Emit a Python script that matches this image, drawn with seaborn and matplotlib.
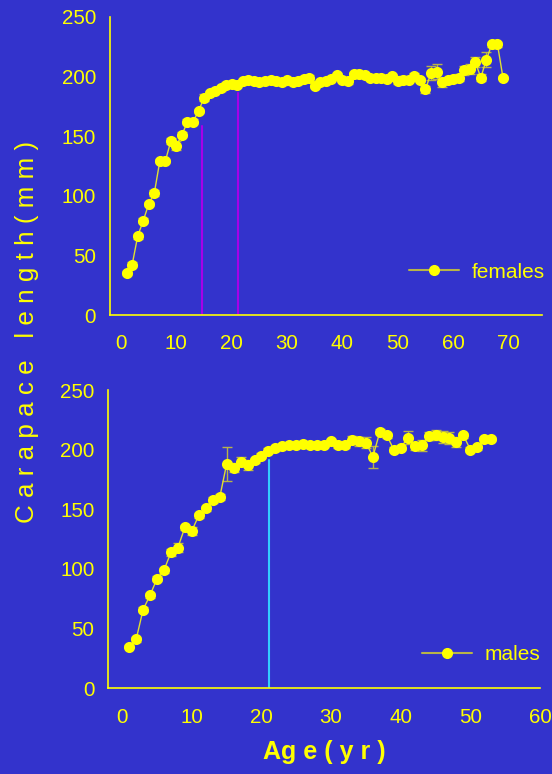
import numpy as np
import pandas as pd
import matplotlib
matplotlib.use("Agg")
import matplotlib.pyplot as plt
import seaborn as sns
from matplotlib.lines import Line2D

# ---------------- data ----------------
female_age = list(range(1, 70))
female_len = [35, 42, 66, 79, 93, 102, 129, 129, 146, 142,
              151, 162, 162, 171, 182, 186, 188, 190, 193, 194,
              193, 196, 197, 196, 195, 196, 197, 196, 195, 197,
              195, 196, 198, 199, 192, 195, 196, 198, 201, 197,
              196, 202, 202, 201, 199, 199, 199, 198, 200, 196,
              197, 197, 200, 197, 189, 203, 204, 195, 197, 198,
              199, 205, 206, 212, 199, 214, 227, 227, 199]
female_err = [1.5, 2, 2, 2, 2, 2.5, 2, 2, 2.5, 3.5,
              2, 2, 2, 2, 3, 2, 2, 2, 2, 2,
              2, 2, 2, 2, 2, 2, 2, 2, 2, 2,
              2, 2, 2, 2, 2, 2, 2, 2, 2, 2,
              2, 2, 2, 2, 2, 2, 2, 2, 2, 2,
              3, 2, 3, 2, 3, 6, 6, 4, 2, 2,
              3, 4, 4, 4, 3, 6, 2, 2, 1]
female_marks = [14.7, 21.2]
female_mark_tops = [158, 186]

male_age = list(range(1, 54))
male_len = [35, 41, 66, 78, 92, 99, 114, 118, 135, 132,
            145, 151, 158, 160, 188, 185, 190, 187, 191, 195,
            199, 201, 203, 203.5, 204, 205, 203.5, 203.5, 204, 207,
            203.5, 203.5, 208.5, 207, 206, 194, 215, 212, 200, 201.5,
            210, 203, 203.5, 211.5, 212.5, 210.5, 209.5, 206.5, 212, 200,
            202, 209, 209]
male_err = [1.5, 2, 2, 2, 2, 2, 3, 4, 2, 3.5,
            2, 2, 2.5, 2.5, 14, 4, 4, 4, 2, 2,
            2, 2, 2, 2, 2, 2, 2, 2, 2, 2,
            2, 2, 3, 4, 5, 9, 2, 2, 2, 2,
            5.5, 3, 5, 3, 4, 5, 5, 4, 2, 2,
            2, 2, 2]
male_marks = [21.1]
male_mark_tops = [191]

y_ticks = [0, 50, 100, 150, 200, 250]
female_xticks = [0, 10, 20, 30, 40, 50, 60, 70]
male_xticks = [0, 10, 20, 30, 40, 50, 60]

# ---------------- style ----------------
BG = "#3333cc"
YEL = "#ffff00"
OLIVE = "#b8b448"
sns.set_style("white")
plt.rcParams["font.family"] = ["Liberation Sans", "DejaVu Sans"]

fig = plt.figure(figsize=(5.52, 7.74), dpi=100, facecolor=BG)
W, H = 552, 774

def make_axes(l, r, t, b):
    return fig.add_axes([l / W, 1 - b / H, (r - l) / W, (b - t) / H])

ax1 = make_axes(110, 541.7, 16.7, 315)
ax2 = make_axes(108.3, 540, 390, 688.3)

def draw(ax, ages, vals, errs, marks, tops, mark_color, label, xlim, xticks, leg_xy):
    ax.set_facecolor(BG)
    df = pd.DataFrame({"age": ages, "len": vals, "err": errs})
    for x, t in zip(marks, tops):
        ax.plot([x, x], [0, t], color=mark_color, lw=1.5, zorder=1)
    ax.errorbar(df["age"], df["len"], yerr=df["err"], fmt="none",
                ecolor=OLIVE, elinewidth=1.0, capsize=3.5, capthick=1.0, zorder=2)
    sns.lineplot(data=df, x="age", y="len", ax=ax, color="#e0e030", lw=1.0,
                 marker="o", markersize=8, markerfacecolor=YEL,
                 markeredgecolor=YEL, markeredgewidth=0, zorder=3,
                 label=label, legend=False)
    ax.set_xlim(*xlim)
    ax.set_ylim(0, 250)
    ax.set_xticks(xticks)
    ax.set_yticks(y_ticks)
    ax.set_xlabel("")
    ax.set_ylabel("")
    for s in ["top", "right"]:
        ax.spines[s].set_visible(False)
    for s in ["left", "bottom"]:
        ax.spines[s].set_color(YEL)
        ax.spines[s].set_linewidth(1.2)
    ax.tick_params(axis="both", colors=OLIVE, labelcolor=YEL, labelsize=14.8,
                   length=4, width=1.0, direction="out")
    ax.tick_params(axis="x", pad=10)
    ax.tick_params(axis="y", pad=6)
    h = Line2D([], [], color=OLIVE, lw=1.5, marker="o", markersize=7,
               markerfacecolor=YEL, markeredgecolor=YEL)
    leg = ax.legend([h], [label], loc="center left",
                    bbox_to_anchor=(leg_xy[0] / W, 1 - leg_xy[1] / H),
                    bbox_transform=fig.transFigure, frameon=False,
                    borderpad=0, borderaxespad=0, handlelength=2.4,
                    handletextpad=0.6, fontsize=15)
    for t in leg.get_texts():
        t.set_color(YEL)

draw(ax1, female_age, female_len, female_err, female_marks, female_mark_tops,
     "#a800e8", "females", (-2, 76), female_xticks, (409, 272))
draw(ax2, male_age, male_len, male_err, male_marks, male_mark_tops,
     "#33ccff", "males", (-2, 60), male_xticks, (421.7, 654.3))

fig.text(27 / W, 1 - 332 / H, "C a r a p a c e   l e n g t h ( m m )",
         rotation=90, ha="center", va="center", color=YEL, fontsize=18.7)
fig.text(324 / W, 1 - 752 / H, "Ag e ( y r )", ha="center", va="center",
         color=YEL, fontsize=18, fontweight="bold")

fig.savefig("out.png", dpi=100, facecolor=BG)
